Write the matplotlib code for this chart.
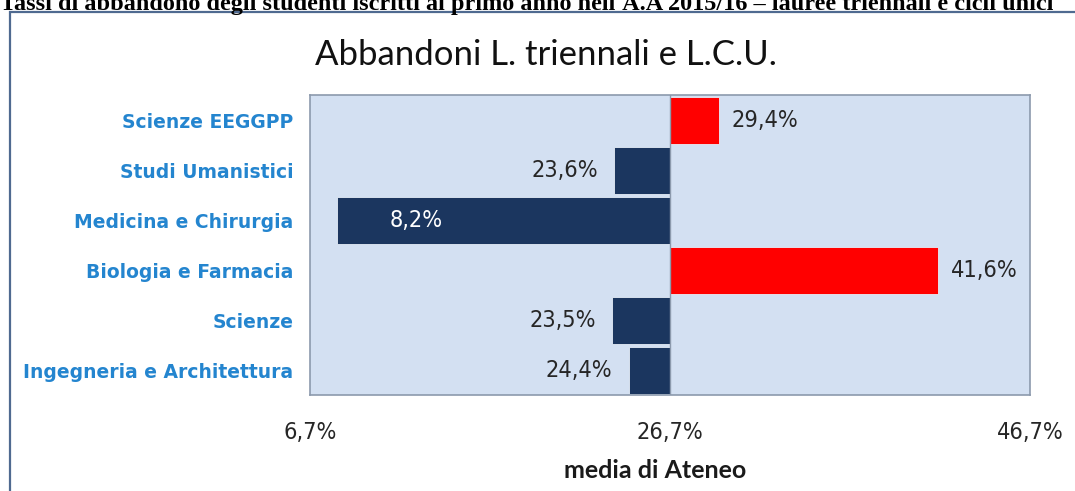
import matplotlib
matplotlib.use("Agg")
import matplotlib.pyplot as plt
from matplotlib.patches import Rectangle

# dati
categories = ["Scienze EEGGPP", "Studi Umanistici", "Medicina e Chirurgia",
              "Biologia e Farmacia", "Scienze", "Ingegneria e Architettura"]
values = [29.4, 23.6, 8.2, 41.6, 23.5, 24.4]
media = 26.7
xticks = [6.7, 26.7, 46.7]

fig = plt.figure(figsize=(10.75, 4.91), dpi=100)
W, H = 1075, 491

# titolo del documento, tagliato in alto
fig.text(0.0, 1 - 10 / H, "Tassi di abbandono degli studenti iscritti al primo anno nell'A.A 2015/16 \u2013 lauree triennali e cicli unici",
         family="Liberation Serif", fontweight="bold", fontsize=17.5, va="baseline", ha="left")

# cornice esterna
fig.patches.append(Rectangle((10 / W, -0.05), 1.2, 1 - 12 / H + 0.05, transform=fig.transFigure,
                             fill=False, edgecolor="#4F6A90", linewidth=1.6))

ax = fig.add_axes([310 / W, (H - 395) / H, 720 / W, 300 / H])
ax.set_facecolor("#D3E0F2")
ax.set_xlim(xticks[0], xticks[-1])
ax.set_ylim(len(categories) - 0.5, -0.5)

num_font = dict(family="DejaVu Sans", fontstretch="condensed", fontsize=16.8)

ypos = list(range(len(categories)))
colors = ["#FF0000" if v > media else "#1B365F" for v in values]
ax.barh(ypos, [v - media for v in values], left=media, height=0.94,
        color=colors, edgecolor="#E6EEF8", linewidth=0.6, zorder=2)
ax.axvline(media, color="#8C9AAD", linewidth=1.0, zorder=3)

for y, v in zip(ypos, values):
    lab = f"{v:.1f}%".replace(".", ",")
    if v > media:
        ax.text(v + 0.7, y, lab, ha="left", va="center", color="#262626", **num_font)
    elif v < xticks[0] + 8:
        ax.text(v + 2.9, y, lab, ha="left", va="center", color="white", **num_font)
    else:
        ax.text(v - 0.9, y, lab, ha="right", va="center", color="#262626", **num_font)

ax.set_yticks(ypos)
ax.set_yticklabels(categories, fontsize=13.5, fontweight="bold", color="#2485CF", family="DejaVu Sans")
ax.tick_params(axis="y", length=0, pad=12)
ax.set_xticks(xticks)
ax.set_xticklabels([f"{t:.1f}%".replace(".", ",") for t in xticks], color="#262626", **num_font)
ax.tick_params(axis="x", length=0, pad=19)

fig.text(655 / W, 1 - 470 / H, "media di Ateneo", ha="center", va="center", fontsize=18,
         fontweight="bold", family="Lato", color="#1A1A1A")
for s in ax.spines.values():
    s.set_edgecolor("#8C9AAD")
    s.set_linewidth(1.2)

fig.text(546 / W, 1 - 55 / H, "Abbandoni L. triennali e L.C.U.", ha="center", va="center",
         fontsize=25, family="Lato", color="#111111")

fig.savefig("out.png", dpi=100)
